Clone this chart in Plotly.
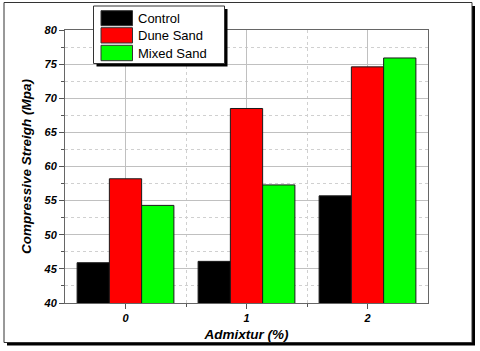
import plotly.graph_objects as go

categories = [0, 1, 2]
tick_labels = ["0", "1", "2"]
series_names = ["Control", "Dune Sand", "Mixed Sand"]
control = [45.9, 46.1, 55.7]
dune_sand = [58.2, 68.5, 74.6]
mixed_sand = [54.3, 57.3, 75.9]
colors = ["#000000", "#ff0000", "#00ff00"]

W, H = 480, 351
L, R, T, B = 65, 52, 30, 48
PW, PH = W - L - R, H - T - B

def px(x):
    return (x - L) / PW

def py(y):
    return (H - B - y) / PH

fig = go.Figure()
for name, vals, col in zip(series_names, [control, dune_sand, mixed_sand], colors):
    fig.add_trace(go.Bar(x=categories, y=vals, name=name, marker=dict(color=col, line=dict(color="#1a1a1a", width=1)),
                         showlegend=False))

font = "Arial, Liberation Sans, sans-serif"
fig.update_layout(
    width=W, height=H,
    margin=dict(l=L, r=R, t=T, b=B),
    paper_bgcolor="white", plot_bgcolor="white",
    barmode="group", bargap=0.2, bargroupgap=0,
    font=dict(family=font, color="black"),
    xaxis=dict(range=[-0.5, 2.5], tickvals=categories, ticktext=tick_labels,
               ticks="outside", ticklen=5, tickcolor="#555",
               showline=True, linecolor="#666", linewidth=1, mirror=True,
               showgrid=True, gridcolor="#c0c0c0", gridwidth=1,
               tickfont=dict(size=11, family=font, weight="bold", style="italic"),
               title=dict(text="Admixtur (%)", font=dict(size=13.5, weight="bold", style="italic"), standoff=6),
               minor=dict(tickvals=[0.5, 1.5], ticks="outside", ticklen=3, tickcolor="#555",
                          showgrid=True, gridcolor="#d0d0d0", griddash="dot", gridwidth=1),
               zeroline=False),
    yaxis=dict(range=[40, 80], dtick=5, tick0=40,
               ticks="outside", ticklen=5, tickcolor="#555",
               showline=True, linecolor="#666", linewidth=1, mirror=True,
               showgrid=True, gridcolor="#c0c0c0", gridwidth=1,
               tickfont=dict(size=11, family=font, weight="bold", style="italic"),
               title=dict(text="Compressive Streigh (Mpa)", font=dict(size=13.5, weight="bold", style="italic"), standoff=8),
               minor=dict(dtick=2.5, tick0=42.5, ticks="outside", ticklen=3, tickcolor="#555",
                          showgrid=True, gridcolor="#d0d0d0", griddash="dot", gridwidth=1),
               zeroline=False),
)

shapes = []
# outer frame with shadow
shapes.append(dict(type="rect", xref="paper", yref="paper", layer="below",
                   x0=px(7), x1=px(475), y0=py(6), y1=py(345.5),
                   fillcolor="black", line=dict(width=0)))
shapes.append(dict(type="rect", xref="paper", yref="paper", layer="below",
                   x0=px(4), x1=px(472), y0=py(2.5), y1=py(342.5),
                   fillcolor="white", line=dict(color="#333", width=1)))
# legend box with shadow
shapes.append(dict(type="rect", xref="paper", yref="paper", layer="above",
                   x0=px(96.5), x1=px(227.5), y0=py(9), y1=py(66.5),
                   fillcolor="black", line=dict(width=0)))
shapes.append(dict(type="rect", xref="paper", yref="paper", layer="above",
                   x0=px(93.5), x1=px(224.5), y0=py(6), y1=py(63.5),
                   fillcolor="white", line=dict(color="#333", width=1)))
annotations = []
rows = [(10.7, 25.7), (27.7, 43), (45.3, 60.7)]
for (y0, y1), name, col in zip(rows, series_names, colors):
    shapes.append(dict(type="rect", xref="paper", yref="paper", layer="above",
                       x0=px(101), x1=px(132.5), y0=py(y1), y1=py(y0),
                       fillcolor=col, line=dict(color="#333", width=1)))
    annotations.append(dict(xref="paper", yref="paper", x=px(136), y=py((y0 + y1) / 2),
                            text=name, showarrow=False, xanchor="left", yanchor="middle",
                            font=dict(size=13, family=font, color="black")))
fig.update_layout(shapes=shapes, annotations=annotations)

fig.write_html("out.html", config={"displayModeBar": False},
               post_script="document.body.style.margin='0';document.body.style.padding='0';")
